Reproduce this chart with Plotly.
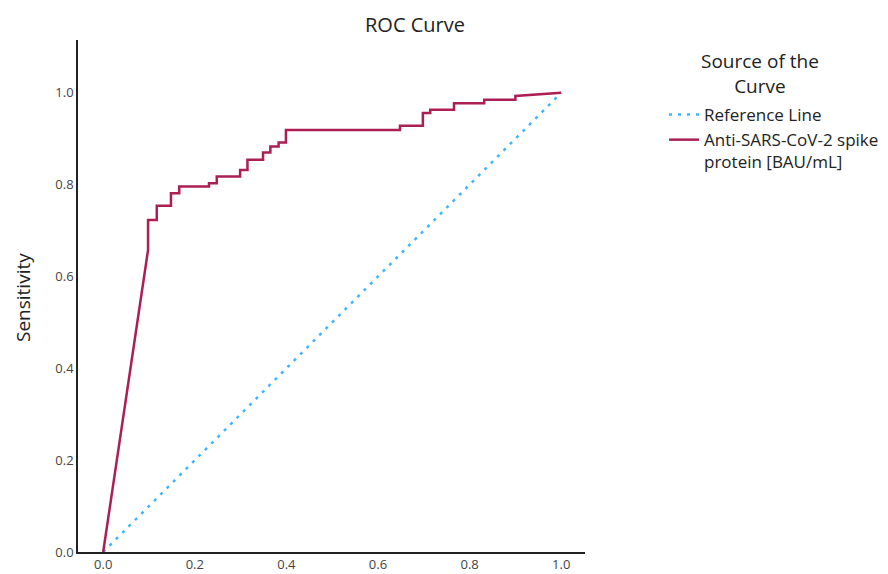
import plotly.graph_objects as go

# ROC curve vertices (1 - specificity, sensitivity)
fpr = [0.0, 0.098, 0.098, 0.117, 0.117, 0.148, 0.148, 0.166, 0.166, 0.231, 0.231,
       0.248, 0.248, 0.299, 0.299, 0.315, 0.315, 0.349, 0.349, 0.365, 0.365,
       0.383, 0.383, 0.399, 0.399, 0.648, 0.648, 0.698, 0.698, 0.714, 0.714,
       0.766, 0.766, 0.832, 0.832, 0.900, 0.900, 1.0]
tpr = [0.0, 0.658, 0.723, 0.723, 0.754, 0.754, 0.781, 0.781, 0.796, 0.796, 0.803,
       0.803, 0.818, 0.818, 0.832, 0.832, 0.854, 0.854, 0.870, 0.870, 0.883,
       0.883, 0.892, 0.892, 0.919, 0.919, 0.928, 0.928, 0.956, 0.956, 0.963,
       0.963, 0.977, 0.977, 0.985, 0.985, 0.993, 1.0]
ref_x = [0.0, 1.0]
ref_y = [0.0, 1.0]
tick_vals = [0.0, 0.2, 0.4, 0.6, 0.8, 1.0]
tick_text = ["0.0", "0.2", "0.4", "0.6", "0.8", "1.0"]

FONT = "Open Sans"
OFF = 8  # page body margin
W, H = 888 - OFF, 574 - OFF
# plot area in page pixels: x 78..585, y 40..552
L, R, T, B = 78 - OFF, W - (585 - OFF), 40 - OFF, H - (552 - OFF)
PW, PH = W - L - R, H - T - B


def px_x(p):
    return (p - OFF - L) / PW


def px_y(p):
    return (H - B - (p - OFF)) / PH


fig = go.Figure()
fig.add_trace(go.Scatter(x=ref_x, y=ref_y, mode="lines", name="Reference Line",
                         line=dict(color="#3DB6FF", width=2.5, dash="3px,6px"),
                         cliponaxis=False))
fig.add_trace(go.Scatter(x=fpr, y=tpr, mode="lines",
                         name="Anti-SARS-CoV-2 spike<br>protein [BAU/mL]",
                         line=dict(color="#AB1F55", width=2.5),
                         cliponaxis=False))

fig.update_layout(
    width=W, height=H,
    margin=dict(l=L, r=R, t=T, b=B, autoexpand=False),
    paper_bgcolor="white", plot_bgcolor="white",
    font=dict(family=FONT, color="#222"),
    title=dict(text="ROC Curve", x=px_x(415), xref="paper", xanchor="center",
               y=1 - (25 - OFF) / H, yanchor="middle", font=dict(size=20, color="#222")),
    xaxis=dict(range=[-0.055, 1.052], showgrid=False, zeroline=False,
               showline=True, linecolor="#222", linewidth=1.5, automargin=False,
               tickvals=tick_vals, ticktext=tick_text, ticks="",
               tickfont=dict(size=13, color="#444")),
    yaxis=dict(range=[0, 1.115], showgrid=False, zeroline=False,
               showline=True, linecolor="#222", linewidth=1.5, automargin=False,
               tickvals=tick_vals, ticktext=tick_text, ticks="",
               tickfont=dict(size=13, color="#444")),
    legend=dict(x=px_x(664), y=px_y(97), xanchor="left", yanchor="top",
                font=dict(size=17, color="#222"), tracegroupgap=0, valign="top",
                bgcolor="rgba(0,0,0,0)"),
    showlegend=True,
)
fig.add_annotation(text="Source of the<br>Curve", x=px_x(760), y=px_y(73),
                   xref="paper", yref="paper", showarrow=False, align="center",
                   font=dict(size=19, color="#222"), xanchor="center", yanchor="middle")
fig.add_annotation(text="Sensitivity", x=px_x(23), y=px_y(298),
                   xref="paper", yref="paper", textangle=-90, showarrow=False,
                   font=dict(size=19, color="#222"), xanchor="center", yanchor="middle")

fig.write_html("out.html")
